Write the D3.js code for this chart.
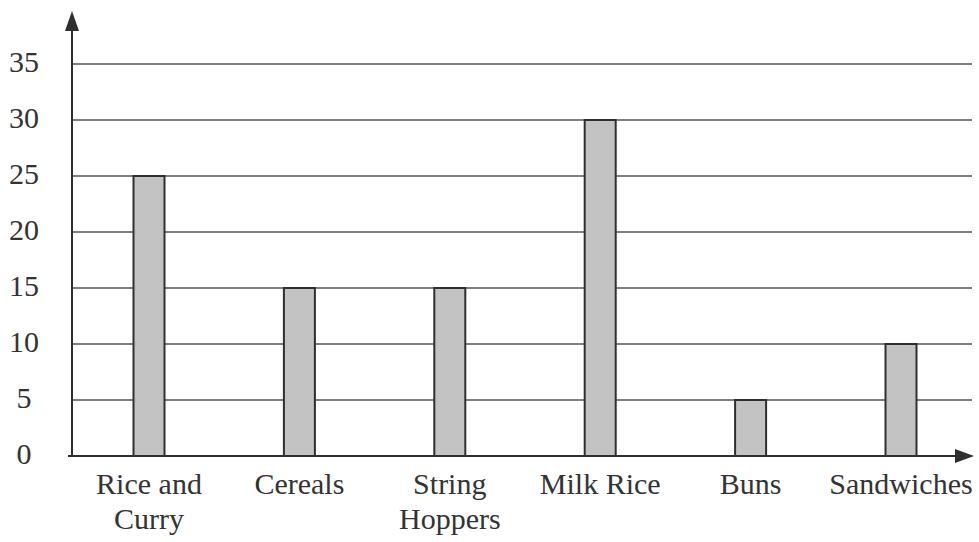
<!DOCTYPE html>
<html>
<head>
<meta charset="utf-8">
<script src="https://cdn.jsdelivr.net/npm/d3@7"></script>
<style>
  html, body { margin: 0; padding: 0; background: #fff; }
  svg { display: block; }
</style>
</head>
<body>
<svg id="chart" width="979" height="542"></svg>
<script>
// chart values
var categories = ["Rice and Curry", "Cereals", "String Hoppers", "Milk Rice", "Buns", "Sandwiches"];
var labelLines = [["Rice and", "Curry"], ["Cereals"], ["String", "Hoppers"], ["Milk Rice"], ["Buns"], ["Sandwiches"]];
var counts = [25, 15, 15, 30, 5, 10];
var yTicks = [0, 5, 10, 15, 20, 25, 30, 35];

var serif = "'Liberation Serif', 'Times New Roman', Times, 'DejaVu Serif', serif";

function drawChart() {
   var svg = d3.select("#chart");
   var axisX = 72, axisRight = 974;

   var y = d3.scaleLinear()
      .domain([0, 35])
      .range([456, 64]);

   var x = d3.scalePoint()
      .domain(categories)
      .range([149, 901]);

   var barW = 31;
   var ink = "#2f2f2f";

   // horizontal grid lines
   svg.append("g")
      .selectAll("line")
      .data(yTicks.filter(function(d) { return d > 0; }))
      .enter()
      .append("line")
      .attr("x1", axisX)
      .attr("x2", 972)
      .attr("y1", function(d) { return y(d); })
      .attr("y2", function(d) { return y(d); })
      .style("stroke", "#555")
      .style("stroke-width", 1.4);

   // tick labels, roughly centred in the left margin
   svg.append("g")
      .selectAll("text")
      .data(yTicks)
      .enter()
      .append("text")
      .attr("x", 24)
      .attr("y", function(d) { return y(d) - 3; })
      .attr("text-anchor", "middle")
      .attr("dominant-baseline", "central")
      .style("font-family", serif)
      .style("fill", "#333")
      .style("font-size", "30px")
      .text(function(d) { return d; });

   // bars
   svg.append("g")
      .selectAll("rect")
      .data(counts)
      .enter()
      .append("rect")
      .attr("x", function(d, i) { return x(categories[i]) - barW / 2; })
      .attr("y", function(d) { return y(d); })
      .attr("width", barW)
      .attr("height", function(d) { return y(0) - y(d); })
      .style("fill", "#c3c3c3")
      .style("stroke", ink)
      .style("stroke-width", 2);

   // axes with arrow heads
   svg.append("line")
      .attr("x1", axisX).attr("x2", axisX)
      .attr("y1", y(0) + 1).attr("y2", 24)
      .style("stroke", ink)
      .style("stroke-width", 2);
   svg.append("path")
      .attr("d", "M" + axisX + ",11 L" + (axisX - 7) + ",31 L" + (axisX + 7) + ",31 Z")
      .style("fill", ink);

   svg.append("line")
      .attr("x1", 68).attr("x2", axisRight - 12)
      .attr("y1", y(0)).attr("y2", y(0))
      .style("stroke", ink)
      .style("stroke-width", 2);
   svg.append("path")
      .attr("d", "M" + axisRight + "," + y(0) + " L" + (axisRight - 19) + "," + (y(0) - 7) + " L" + (axisRight - 19) + "," + (y(0) + 7) + " Z")
      .style("fill", ink);

   // category labels, one or two lines each
   var labels = svg.append("g")
      .selectAll("text")
      .data(categories)
      .enter()
      .append("text")
      .attr("text-anchor", "middle")
      .style("font-family", serif)
      .style("fill", "#333")
      .style("font-size", "30px");

   labels.selectAll("tspan")
      .data(function(d, i) { return labelLines[i].map(function(t) { return { cat: d, text: t }; }); })
      .enter()
      .append("tspan")
      .attr("x", function(d) { return x(d.cat); })
      .attr("y", function(d, j) { return 494 + j * 35; })
      .text(function(d) { return d.text; });
}

drawChart();
</script>
</body>
</html>
